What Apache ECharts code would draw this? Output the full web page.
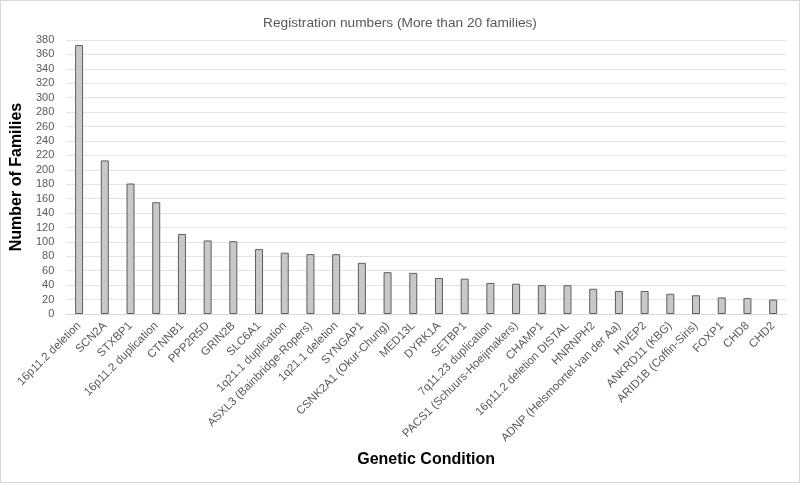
<!DOCTYPE html>
<html><head><meta charset="utf-8">
<script src="https://cdn.jsdelivr.net/npm/echarts@6/dist/echarts.min.js"></script>
<style>html,body{margin:0;padding:0;background:#fff}#c{width:798px;height:481px;border:1px solid #d9d9d9}</style>
</head><body><div id="c"></div>
<script>
const categories = ["16p11.2 deletion","SCN2A","STXBP1","16p11.2 duplication","CTNNB1","PPP2R5D","GRIN2B","SLC6A1","1q21.1 duplication","ASXL3 (Bainbridge-Ropers)","1q21.1 deletion","SYNGAP1","CSNK2A1 (Okur-Chung)","MED13L","DYRK1A","SETBP1","7q11.23 duplication","PACS1 (Schuurs-Hoeijmakers)","CHAMP1","16p11.2 deletion DISTAL","HNRNPH2","ADNP (Helsmoortel-van der Aa)","HIVEP2","ANKRD11 (KBG)","ARID1B (Coffin-Siris)","FOXP1","CHD8","CHD2"];
const families = [373,213,181,155,111,102,101,90,85,83,83,71,58,57,50,49,43,42,40,40,35,32,32,28,26,23,22,20];
const titleText = "Registration numbers (More than 20 families)";
const yName = "Number of Families";
const xName = "Genetic Condition";

const chart = echarts.init(document.getElementById('c'));
const font = "'Liberation Sans', Arial, sans-serif";
chart.setOption({
  animation:false,
  title:{text:titleText,left:'center',top:10,textStyle:{fontFamily:font,fontSize:13.7,fontWeight:'normal',color:'#595959'}},
  grid:{left:64,right:13,top:39,bottom:168},
  xAxis:{type:'category',data:categories,
    name:xName,nameLocation:'middle',nameGap:138,
    nameTextStyle:{fontFamily:font,fontSize:16,fontWeight:'bold',color:'#000'},
    axisLine:{lineStyle:{color:'#d9d9d9'}},axisTick:{show:false},
    axisLabel:{rotate:45,interval:0,fontFamily:font,fontSize:11.5,color:'#595959',margin:10}},
  yAxis:{type:'value',min:0,max:380,interval:20,
    name:yName,nameLocation:'middle',nameGap:40,
    nameTextStyle:{fontFamily:font,fontSize:16,fontWeight:'bold',color:'#000'},
    axisLine:{show:false},axisTick:{show:false},
    axisLabel:{fontFamily:font,fontSize:11,color:'#595959',margin:12},
    splitLine:{lineStyle:{color:'#e3e3e3'}}},
  series:[{type:'bar',data:families,barWidth:8,
    itemStyle:{color:'#c8c8c8',borderColor:'#5e5e5e',borderWidth:1}}]
});
</script></body></html>
